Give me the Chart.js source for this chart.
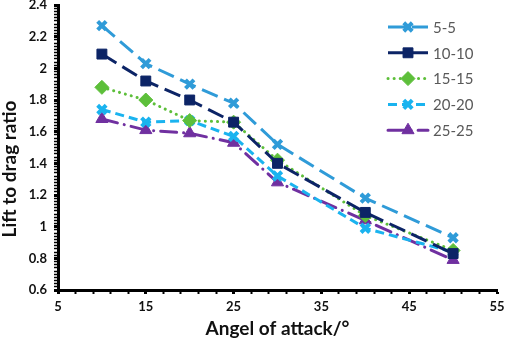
<!DOCTYPE html>
<html>
<head>
<meta charset="utf-8">
<script src="https://cdn.jsdelivr.net/npm/chart.js@4"></script>
<style>
  html, body { margin: 0; padding: 0; background: #fff; }
  #wrap { width: 505px; height: 343px; }
</style>
</head>
<body>
<div id="wrap"><canvas id="liftChart"></canvas></div>
<script>
// Data
const angles = [10, 15, 20, 25, 30, 40, 50];
const seriesNames = ['5-5', '10-10', '15-15', '20-20', '25-25'];
const ratio55 = [2.27, 2.03, 1.90, 1.78, 1.52, 1.18, 0.93];
const ratio1010 = [2.09, 1.92, 1.80, 1.66, 1.40, 1.09, 0.83];
const ratio1515 = [1.88, 1.80, 1.67, 1.66, 1.42, 1.07, 0.85];
const ratio2020 = [1.74, 1.66, 1.67, 1.57, 1.32, 0.99, 0.84];
const ratio2525 = [1.68, 1.61, 1.59, 1.53, 1.28, 1.04, 0.79];
const xTickLabels = [5, 15, 25, 35, 45, 55];
const yTickLabels = [0.6, 0.8, 1, 1.2, 1.4, 1.6, 1.8, 2, 2.2, 2.4];
const yTitle = 'Lift to drag ratio';

const FONT = 'Lato, "Open Sans", sans-serif';

function toPoints(values) {
    return angles.map((a, i) => ({ x: a, y: values[i] }));
}

function isLabel(v, list) {
    return list.some(t => Math.abs(t - v) < 1e-6);
}

// styles per series
const styles = [
    { color: '#2f9bd8', dash: [17, 7], cap: 'butt', point: 'crossRot', radius: 6, pw: 4 },
    { color: '#0c2466', dash: [17, 7], cap: 'butt', point: 'rect', radius: 7, pw: 1 },
    { color: '#5dbf3a', dash: [0.1, 6], cap: 'round', point: 'rectRot', radius: 7, pw: 1 },
    { color: '#1ab3ef', dash: [9, 5], cap: 'butt', point: 'crossRot', radius: 6, pw: 4 },
    { color: '#7030a0', dash: [16, 7, 0.1, 7], cap: 'round', point: 'triangle', radius: 7, pw: 1 }
];
const allValues = [ratio55, ratio1010, ratio1515, ratio2020, ratio2525];

const datasets = allValues.map((vals, i) => ({
    label: seriesNames[i],
    data: toPoints(vals),
    borderColor: styles[i].color,
    backgroundColor: styles[i].color,
    borderWidth: 3,
    borderDash: styles[i].dash,
    borderCapStyle: styles[i].cap,
    pointStyle: styles[i].point,
    pointRadius: styles[i].radius,
    pointBorderWidth: styles[i].pw,
    pointBackgroundColor: styles[i].color,
    pointBorderColor: styles[i].color,
    tension: 0,
    fill: false,
    clip: false
}));

// legend drawn at the right side inside the plot, like the original
const sideLegend = {
    id: 'sideLegend',
    afterDraw(chart) {
        const ctx = chart.ctx;
        chart.data.datasets.forEach((ds, i) => {
            const y = 27 + i * 25.8;
            ctx.save();
            ctx.strokeStyle = ds.borderColor;
            ctx.lineWidth = ds.borderWidth;
            ctx.lineCap = ds.borderCapStyle;
            ctx.setLineDash(ds.borderDash);
            ctx.beginPath();
            ctx.moveTo(388, y);
            ctx.lineTo(428, y);
            ctx.stroke();
            ctx.restore();

            ctx.save();
            ctx.fillStyle = ds.pointBackgroundColor;
            ctx.strokeStyle = ds.pointBorderColor;
            ctx.lineWidth = ds.pointBorderWidth;
            Chart.helpers.drawPoint(ctx, {
                pointStyle: ds.pointStyle,
                radius: ds.pointRadius,
                borderWidth: ds.pointBorderWidth,
                rotation: 0
            }, 408, y);
            ctx.restore();

            ctx.save();
            ctx.fillStyle = '#595959';
            ctx.font = '15px ' + FONT;
            ctx.textBaseline = 'middle';
            ctx.fillText(ds.label, 433, y + 1);
            ctx.restore();
        });

        // y axis title, sits a bit below the middle in the original
        ctx.save();
        ctx.translate(10, 169);
        ctx.rotate(-Math.PI / 2);
        ctx.fillStyle = '#111';
        ctx.font = 'bold 19px ' + FONT;
        ctx.textAlign = 'center';
        ctx.textBaseline = 'middle';
        ctx.fillText(yTitle, 0, 0);
        ctx.restore();
    }
};

const ctx = document.getElementById('liftChart').getContext('2d');
const liftChart = new Chart(ctx, {
    type: 'line',
    data: { datasets: datasets },
    options: {
        responsive: true,
        maintainAspectRatio: false,
        animation: false,
        layout: { autoPadding: false, padding: { top: 5, right: 8, left: 24, bottom: 3 } },
        plugins: {
            legend: { display: false },
            tooltip: { enabled: false }
        },
        scales: {
            x: {
                type: 'linear',
                min: 5,
                max: 55,
                afterFit: s => { s.height = 50; s.paddingLeft = 0; s.paddingRight = 0; },
                border: { color: '#000', width: 3 },
                grid: {
                    drawOnChartArea: false,
                    drawTicks: true,
                    tickLength: 4,
                    tickColor: '#000',
                    tickWidth: c => isLabel(c.tick.value, xTickLabels) ? 3 : 2
                },
                ticks: {
                    stepSize: 2,
                    autoSkip: false,
                    maxRotation: 0,
                    padding: 5,
                    color: '#111',
                    font: { family: FONT, size: 13, weight: 'bold' },
                    callback: v => isLabel(v, xTickLabels) ? String(v) : ''
                },
                title: {
                    display: true,
                    text: 'Angel of attack/°',
                    color: '#111',
                    font: { family: FONT, size: 19, weight: 'bold' },
                    padding: { top: 4, bottom: 0 }
                }
            },
            y: {
                type: 'linear',
                min: 0.6,
                max: 2.4,
                afterFit: s => { s.width = 34; s.paddingTop = 0; s.paddingBottom = 0; },
                border: { color: '#000', width: 3 },
                grid: {
                    drawOnChartArea: false,
                    drawTicks: true,
                    tickLength: 4,
                    tickColor: '#000',
                    tickWidth: c => isLabel(c.tick.value, yTickLabels) ? 3 : 1.5
                },
                ticks: {
                    stepSize: 0.02,
                    autoSkip: false,
                    padding: 7,
                    color: '#111',
                    font: { family: FONT, size: 13, weight: 'bold' },
                    callback: v => isLabel(v, yTickLabels) ? String(Number(v.toFixed(1))) : ''
                },
                title: { display: false }
            }
        }
    },
    plugins: [sideLegend]
});
</script>
</body>
</html>
